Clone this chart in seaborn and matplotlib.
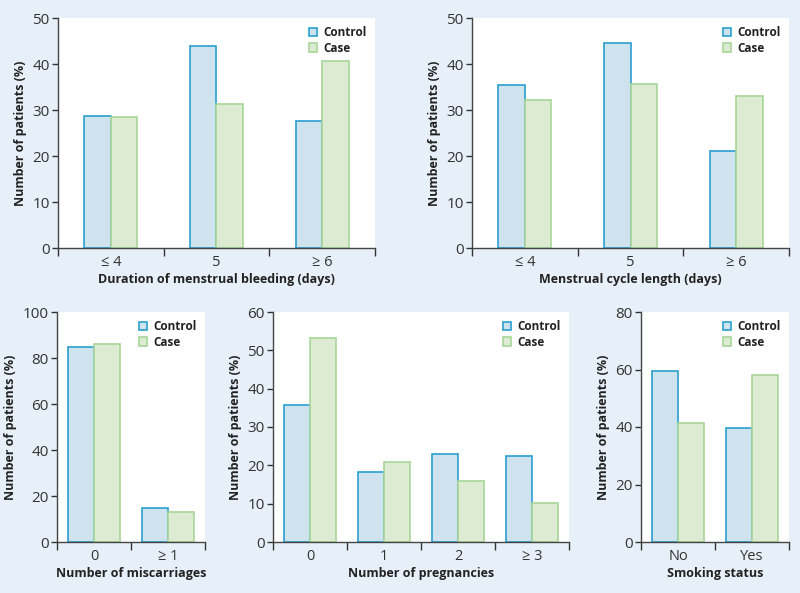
import numpy as np
import pandas as pd
import matplotlib
matplotlib.use("Agg")
import matplotlib.pyplot as plt
import seaborn as sns
from matplotlib.patches import Patch

# data (percent of patients)
bleeding_cats = ["≤ 4", "5", "≥ 6"]
bleeding_control = [28.7, 44.0, 27.6]
bleeding_case = [28.4, 31.3, 40.6]

cycle_cats = ["≤ 4", "5", "≥ 6"]
cycle_control = [35.4, 44.5, 21.0]
cycle_case = [32.2, 35.7, 33.0]

miscarriage_cats = ["0", "≥ 1"]
miscarriage_control = [84.6, 14.8]
miscarriage_case = [86.3, 13.0]

pregnancy_cats = ["0", "1", "2", "≥ 3"]
pregnancy_control = [35.7, 18.3, 22.9, 22.4]
pregnancy_case = [53.2, 20.8, 15.8, 10.3]

smoking_cats = ["No", "Yes"]
smoking_control = [59.6, 39.5]
smoking_case = [41.4, 58.2]

groups = ["Control", "Case"]
fills = {"Control": "#cfe3ef", "Case": "#dcebd2"}
edges = {"Control": "#2a9fd0", "Case": "#a8d59a"}
bg = "#e7f0f8"

sns.set_style("ticks")
plt.rcParams["font.family"] = ["Open Sans", "DejaVu Sans"]
plt.rcParams["text.color"] = "#222222"
plt.rcParams["axes.labelcolor"] = "#222222"
plt.rcParams["xtick.color"] = "#333333"
plt.rcParams["ytick.color"] = "#333333"

fig = plt.figure(figsize=(8, 5.93), dpi=100)
fig.patch.set_facecolor(bg)


def panel(rect, cats, control, case, xlabel, ymax, ystep, width):
    ax = fig.add_axes(rect)
    ax.set_facecolor("white")
    df = pd.DataFrame({
        "cat": cats * 2,
        "group": ["Control"] * len(cats) + ["Case"] * len(cats),
        "value": list(control) + list(case),
    })
    sns.barplot(data=df, x="cat", y="value", hue="group", hue_order=groups,
                order=cats, width=width, ax=ax, legend=False,
                palette=fills, saturation=1)
    for grp, cont in zip(groups, ax.containers):
        for bar in cont:
            bar.set_facecolor(fills[grp])
            bar.set_edgecolor(edges[grp])
            bar.set_linewidth(1.2)
    n = len(cats)
    ax.set_xlim(-0.5, n - 0.5)
    ax.set_ylim(0, ymax)
    ax.set_yticks(np.arange(0, ymax + 1, ystep))
    ax.set_xticks(np.arange(-0.5, n, 1.0))
    ax.set_xticklabels([])
    ax.set_xticks(np.arange(n), minor=True)
    ax.set_xticklabels(cats, minor=True)
    ax.tick_params(axis="x", which="major", length=6, width=1, direction="out")
    ax.tick_params(axis="x", which="minor", length=0, pad=5, labelsize=10.5)
    ax.tick_params(axis="y", length=4, width=1, labelsize=11, pad=2)
    sns.despine(ax=ax)
    for s in ["left", "bottom"]:
        ax.spines[s].set_color("#444444")
        ax.spines[s].set_linewidth(1.0)
    ax.set_xlabel(xlabel, fontsize=9, fontweight="bold", labelpad=2)
    ax.set_ylabel("Number of patients (%)", fontsize=9, fontweight="bold", labelpad=4)
    handles = [Patch(facecolor=fills[g], edgecolor=edges[g], linewidth=1.2, label=g)
               for g in groups]
    ax.legend(handles=handles, loc="upper right", frameon=False,
              handlelength=0.75, handleheight=0.75, handletextpad=0.5,
              labelspacing=0.2, borderaxespad=0.3,
              prop={"weight": "bold", "size": 8.5})
    return ax


H = 593.0
W = 800.0


def rect(x0, x1, y0, y1):
    return [x0 / W, (H - y1) / H, (x1 - x0) / W, (y1 - y0) / H]


panel(rect(58, 375, 18, 248), bleeding_cats, bleeding_control, bleeding_case,
      "Duration of menstrual bleeding (days)", 50, 10, 0.5)
panel(rect(472, 789, 18, 248), cycle_cats, cycle_control, cycle_case,
      "Menstrual cycle length (days)", 50, 10, 0.5)
panel(rect(57, 205, 312, 542), miscarriage_cats, miscarriage_control, miscarriage_case,
      "Number of miscarriages", 100, 20, 0.7)
panel(rect(273, 569, 312, 542), pregnancy_cats, pregnancy_control, pregnancy_case,
      "Number of pregnancies", 60, 10, 0.7)
panel(rect(641, 789, 312, 542), smoking_cats, smoking_control, smoking_case,
      "Smoking status", 80, 20, 0.7)

fig.savefig("out.png", dpi=100, facecolor=bg)
